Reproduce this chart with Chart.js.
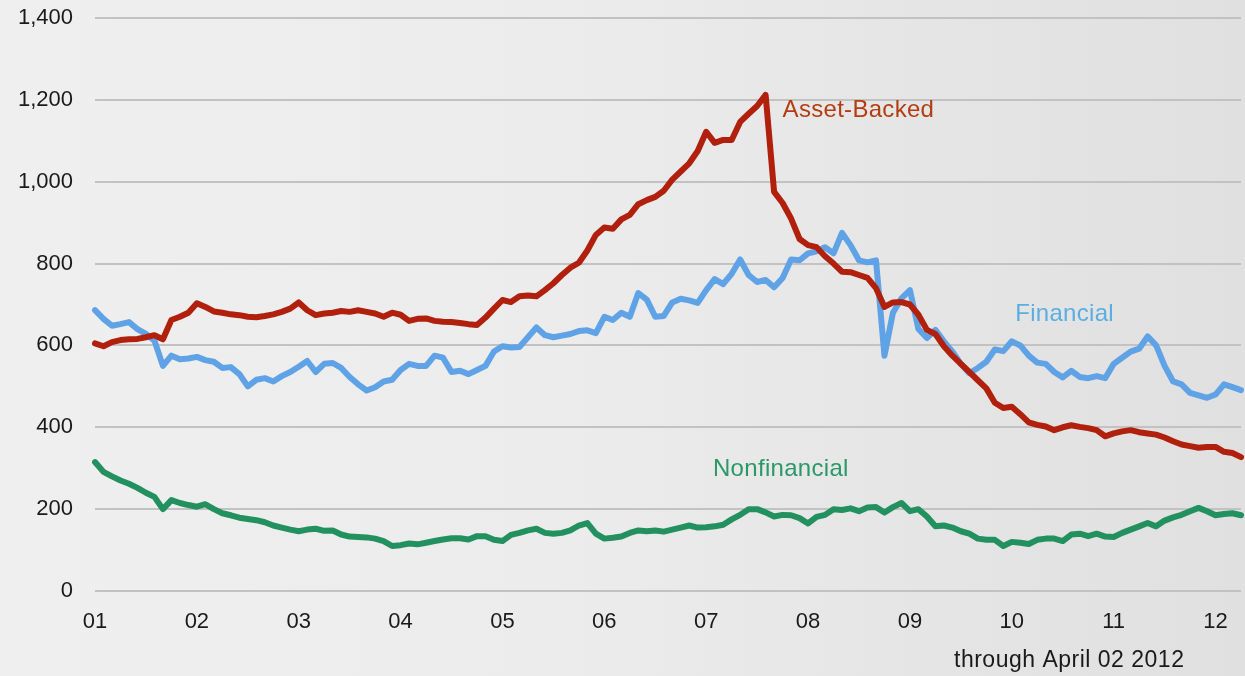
<!DOCTYPE html>
<html>
<head>
<meta charset="utf-8">
<script src="https://cdn.jsdelivr.net/npm/chart.js@4.4.1/dist/chart.umd.min.js"></script>
<style>
  html, body { margin: 0; padding: 0; }
  body {
    width: 1245px; height: 676px; overflow: hidden;
    background: linear-gradient(to right, #efefef 0%, #ececec 45%, #e5e5e5 75%, #e0e0e0 100%);
  }
  canvas { display: block; }
</style>
</head>
<body>
<canvas id="cp_chart" width="1245" height="676"></canvas>
<script>
// year tick labels, one per January (2001 .. 2012)
const yearTicks = ['01', '02', '03', '04', '05', '06', '07', '08', '09', '10', '11', '12'];

// monthly observations, Jan 2001 .. Apr 2012 (136 months)
const assetBacked = [
  605, 598, 608, 613, 615, 616, 620, 625, 615, 662, 670, 680,
  703, 694, 683, 680, 676, 674, 670, 669, 672, 676, 682, 690,
  705, 686, 674, 678, 680, 684, 682, 686, 682, 678, 670, 680,
  675, 660, 665, 666, 660, 658, 657, 655, 652, 650, 668, 690,
  711, 706, 720, 722, 720, 735, 752, 772, 790, 802, 832, 870,
  888, 885, 908, 919, 945, 955, 963, 978, 1005, 1025, 1045, 1075,
  1122, 1095, 1102, 1102, 1146, 1166, 1185, 1212, 975, 948, 910, 860,
  845, 840, 818, 800, 780, 779, 772, 765, 740, 694, 705, 706,
  700, 675, 638, 628, 598, 575, 555, 535, 515, 495, 460, 447,
  450, 432, 412, 406, 402, 393, 400, 405, 401, 398, 393, 378,
  385, 390, 393, 388, 385, 382, 375, 366, 358, 354, 350, 352,
  352, 340, 337, 327
];

const financial = [
  686, 665, 648, 652, 657, 640, 628, 612, 550, 575, 566, 568,
  572, 564, 560, 545, 547, 530, 500, 516, 520, 512, 525, 535,
  548, 562, 535, 555, 557, 545, 523, 505, 490, 498, 512, 516,
  540, 555, 550, 550, 575, 570, 535, 538, 530, 540, 550, 585,
  598, 595, 596, 620, 644, 625, 620, 624, 628, 635, 637, 630,
  670, 662, 680, 670, 728, 712, 670, 672, 705, 714, 710, 704,
  735, 762, 750, 775, 810, 772, 755, 760, 742, 765, 810, 808,
  825, 830, 840, 825, 875, 845, 808, 803, 808, 575, 680, 715,
  735, 640, 618, 638, 610, 585, 555, 532, 545, 560, 590, 586,
  610, 600, 575, 558, 555, 535, 522, 538, 523, 520, 525, 520,
  555, 570, 585, 592, 622, 600, 550, 512, 505, 484, 478, 472,
  480, 505, 498, 491
];

const nonfinancial = [
  315, 291, 280, 270, 262, 252, 240, 230, 200, 222, 215, 210,
  206, 212, 200, 190, 185, 179, 176, 173, 168, 160, 155, 150,
  146, 150, 152, 147, 148, 138, 133, 132, 131, 128, 122, 110,
  112, 116, 114, 118, 122, 126, 129, 129, 126, 134, 134, 125,
  122, 137, 142, 148, 152, 142, 140, 142, 148, 160, 166, 140,
  128, 130, 133, 142, 148, 146, 148, 145, 150, 155, 160, 155,
  156, 158, 162, 175, 186, 200, 200, 192, 182, 186, 185, 178,
  165, 181, 186, 200, 198, 202, 195, 204, 205, 192, 205, 215,
  195, 200, 182, 158, 160, 155, 146, 140, 128, 125, 125, 110,
  120, 118, 115, 125, 128, 128, 122, 138, 140, 134, 140, 133,
  132, 142, 150, 158, 166, 158, 172, 180, 186, 195, 203, 195,
  185, 188, 190, 185
];

// month categories, one label per observation
const months = [];
yearTicks.forEach(y => {
  for (let m = 1; m <= 12; m++) months.push(y + '-' + m);
});
months.length = assetBacked.length;

const lineLabels = [
  { text: 'Asset-Backed', idx: 81, val: 1175, color: '#b33d10' },
  { text: 'Financial', idx: 108.4, val: 675, color: '#5aaee2' },
  { text: 'Nonfinancial', idx: 72.8, val: 298, color: '#2a9868' }
];

const FONT = '"Liberation Sans", Arial, sans-serif';

const textPlugin = {
  id: 'cp_text',
  afterDatasetsDraw(chart) {
    const ctx = chart.ctx;
    const x = chart.scales.x, y = chart.scales.y;
    ctx.save();
    ctx.font = '24px ' + FONT;
    ctx.textBaseline = 'middle';
    ctx.textAlign = 'left';
    ctx.letterSpacing = '0.3px';
    lineLabels.forEach(l => {
      ctx.fillStyle = l.color;
      ctx.fillText(l.text, x.getPixelForValue(l.idx), y.getPixelForValue(l.val));
    });
    ctx.font = '23px ' + FONT;
    ctx.letterSpacing = '0.5px';
    ctx.fillStyle = '#1a1a1a';
    ctx.fillText('through April 02 2012', 954, 661);
    ctx.restore();
  }
};

function lineSet(label, data, color) {
  return {
    label: label,
    data: data,
    borderColor: color,
    borderWidth: 6,
    pointRadius: 0,
    tension: 0,
    fill: false,
    borderJoinStyle: 'round',
    borderCapStyle: 'round'
  };
}

new Chart(document.getElementById('cp_chart'), {
  type: 'line',
  data: {
    labels: months,
    datasets: [
      lineSet('Asset-Backed', assetBacked, '#b0200c'),
      lineSet('Financial', financial, '#5fa3e6'),
      lineSet('Nonfinancial', nonfinancial, '#22915f')
    ]
  },
  options: {
    responsive: false,
    animation: false,
    layout: { padding: { top: 18, right: 4, left: 0, bottom: 0 } },
    plugins: {
      legend: { display: false },
      tooltip: { enabled: false }
    },
    scales: {
      x: {
        grid: { display: false },
        border: { display: false },
        afterFit(scale) {
          scale.height = 85;
          scale.paddingLeft = 0;
          scale.paddingRight = 0;
        },
        ticks: {
          autoSkip: false,
          maxRotation: 0,
          padding: 10,
          color: '#1a1a1a',
          font: { family: FONT, size: 22 },
          callback: (v, i) => (i % 12 === 0 ? yearTicks[i / 12] : '')
        }
      },
      y: {
        min: 0,
        max: 1400,
        afterFit(scale) {
          scale.width = 95;
          scale.paddingTop = 0;
          scale.paddingBottom = 0;
        },
        grid: { color: '#c2c2c2', lineWidth: 2, drawTicks: false },
        border: { display: false },
        ticks: {
          stepSize: 200,
          padding: 22,
          color: '#1a1a1a',
          font: { family: FONT, size: 22 },
          callback: v => v.toLocaleString('en-US')
        }
      }
    }
  },
  plugins: [textPlugin]
});
</script>
</body>
</html>
